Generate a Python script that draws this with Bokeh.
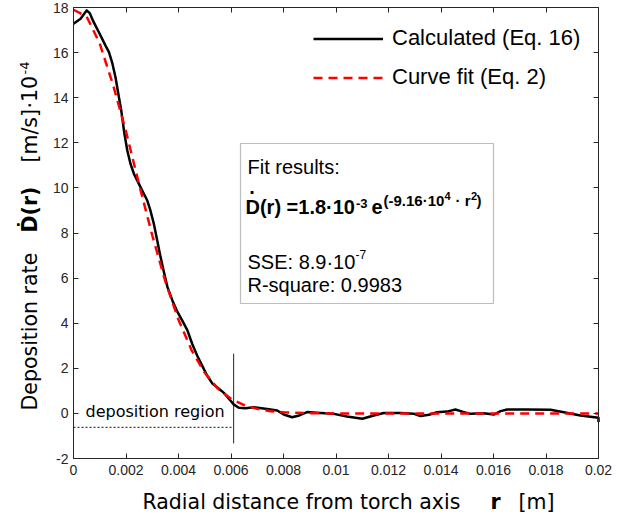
import math
from bokeh.plotting import figure
from bokeh.models import (Label, BoxAnnotation, Legend, LegendItem, LinearAxis,
                          FixedTicker, Range1d)
from bokeh.embed import file_html
from bokeh.resources import INLINE

# ---------------- data ----------------
# Calculated deposition rate (Eq. 16), units 1e-4 m/s
r_calc = [0.0, 0.00027, 0.0005, 0.00062, 0.00077, 0.00103, 0.00122, 0.00135,
          0.00147, 0.0016, 0.00173, 0.00182, 0.00194, 0.00205, 0.00217, 0.0023,
          0.00249, 0.00268, 0.00281, 0.00293, 0.00306, 0.00319, 0.00329, 0.00343,
          0.00358, 0.00377, 0.00396, 0.00415, 0.00434, 0.00452, 0.00471, 0.0049,
          0.00509, 0.00528, 0.00554, 0.00573, 0.00592, 0.00611, 0.0063, 0.00655,
          0.00687, 0.00738, 0.00776, 0.00801, 0.00833, 0.0086, 0.0089, 0.00941,
          0.00992, 0.01042, 0.011, 0.01144, 0.01182, 0.01246, 0.01297, 0.01322,
          0.01354, 0.01385, 0.01423, 0.01455, 0.01481, 0.01512, 0.01563, 0.01601,
          0.01627, 0.01652, 0.01728, 0.01817, 0.01868, 0.01931, 0.02, 0.02]
d_calc = [17.28, 17.5, 17.87, 17.75, 17.35, 16.76, 16.31, 16.02,
          15.57, 14.91, 14.02, 13.43, 12.4, 11.66, 11.07, 10.63,
          10.18, 9.74, 9.44, 9.0, 8.41, 7.67, 7.08, 6.34,
          5.6, 5.0, 4.5, 4.1, 3.68, 3.09, 2.57, 2.12,
          1.68, 1.34, 1.09, 0.91, 0.65, 0.39, 0.25, 0.23,
          0.27, 0.2, 0.13, -0.05, -0.17, -0.09, 0.06, 0.02,
          -0.02, -0.14, -0.24, -0.09, 0.02, 0.02, -0.02, -0.12,
          -0.06, 0.05, 0.08, 0.17, 0.08, -0.02, 0.01, -0.05,
          0.1, 0.17, 0.17, 0.16, 0.05, -0.09, -0.19, -0.38]

# Curve fit (Eq. 2), units 1e-4 m/s
r_fit = [0.0, 0.0005, 0.001, 0.0015, 0.002, 0.0025, 0.003, 0.0035, 0.004, 0.0045,
         0.005, 0.0055, 0.006, 0.0065, 0.007, 0.0075, 0.008, 0.009, 0.01, 0.02]
d_fit = [17.9, 17.6, 16.4, 14.6, 12.5, 10.15, 7.9, 5.85, 4.15, 2.8,
         1.8, 1.1, 0.65, 0.37, 0.2, 0.1, 0.05, 0.01, 0.0, 0.0]

# deposition region markers
region_edge_r = [0.0061, 0.0061]
region_edge_v = [-1.33, 2.65]
region_line_r = [0.0, 0.0061]
region_line_v = [-0.62, -0.62]

x_ticks = [0, 0.002, 0.004, 0.006, 0.008, 0.01, 0.012, 0.014, 0.016, 0.018, 0.02]
x_tick_labels = ["0", "0.002", "0.004", "0.006", "0.008", "0.01", "0.012",
                 "0.014", "0.016", "0.018", "0.02"]
y_ticks = [-2, 0, 2, 4, 6, 8, 10, 12, 14, 16, 18]
y_tick_labels = ["-2", "0", "2", "4", "6", "8", "10", "12", "14", "16", "18"]

legend_labels = ["Calculated (Eq. 16)", "Curve fit (Eq. 2)"]

# ---------------- layout geometry (canvas px) ----------------
W, H = 643, 516
BL, BR, BT, BB = 73, 598, 7, 458      # axes box edges
XMIN, XMAX, YMIN, YMAX = 0.0, 0.02, -2.0, 18.0
sx = (XMAX - XMIN) / (BR - BL)
sy = (YMAX - YMIN) / (BB - BT)

p = figure(width=W, height=H, output_backend="svg", toolbar_location=None,
           x_range=Range1d(XMIN - BL * sx, XMAX + (W - BR) * sx),
           y_range=Range1d(YMIN - (H - BB) * sy, YMAX + BT * sy),
           min_border_left=0, min_border_right=0,
           min_border_top=0, min_border_bottom=0,
           background_fill_color="white", border_fill_color="white")
p.outline_line_color = None
p.xgrid.visible = False
p.ygrid.visible = False

AX = "#262626"
TICKF = "Liberation Sans"

def style_axis(ax, labels=True):
    ax.axis_line_color = AX
    ax.axis_line_width = 1
    ax.major_tick_line_color = AX
    ax.major_tick_in = 5
    ax.major_tick_out = 0
    ax.minor_tick_line_color = None
    ax.major_label_text_font = TICKF
    ax.major_label_text_font_size = "14px"
    if labels:
        ax.major_label_text_color = AX
    else:
        ax.major_label_text_color = None
        ax.major_label_standoff = 0

bx = p.below[0]
ly = p.left[0]
bx.ticker = FixedTicker(ticks=x_ticks)
ly.ticker = FixedTicker(ticks=y_ticks)
bx.major_label_overrides = dict(zip(x_ticks, x_tick_labels))
ly.major_label_overrides = dict(zip(y_ticks, y_tick_labels))
style_axis(bx)
style_axis(ly)
bx.major_label_standoff = 6
ly.major_label_standoff = 5
bx.fixed_location = YMIN
ly.fixed_location = XMIN
bx.bounds = (XMIN, XMAX)
ly.bounds = (YMIN, YMAX)

top_ax = LinearAxis(ticker=FixedTicker(ticks=x_ticks), fixed_location=YMAX,
                    bounds=(XMIN, XMAX))
style_axis(top_ax, labels=False)
p.add_layout(top_ax, "above")
right_ax = LinearAxis(ticker=FixedTicker(ticks=y_ticks), fixed_location=XMAX,
                      bounds=(YMIN, YMAX))
style_axis(right_ax, labels=False)
p.add_layout(right_ax, "right")

# ---------------- helpers for placing text (canvas px -> data) ----------------
KB = 0.36   # empirical baseline correction (fraction of font size)

def rx(px):
    return XMIN + (px - BL) * sx

def vy(py):
    return YMAX - (py - BT) * sy

def fpx(size):
    return float(size.replace("px", ""))

# ---------------- region markers ----------------
p.line(region_line_r, region_line_v, line_color="#404040", line_width=1.2,
       line_dash="2 2")
p.line(region_edge_r, region_edge_v, line_color=AX, line_width=1)

# ---------------- curves ----------------
calc = p.line(r_calc, d_calc, line_color="black", line_width=2.5,
              line_join="round")
fit = p.line(r_fit, d_fit, line_color="#ff0000", line_width=2.5, line_dash="9 6")

legend = Legend(items=[LegendItem(label=legend_labels[0], renderers=[calc]),
                       LegendItem(label=legend_labels[1], renderers=[fit])],
                location=(313, 426), orientation="vertical",
                padding=0, margin=0, spacing=13,
                glyph_width=70, glyph_height=25, label_height=25,
                label_standoff=9, border_line_color=None,
                background_fill_alpha=0,
                label_text_font="Liberation Sans", label_text_font_size="22px",
                label_text_color="black")
p.add_layout(legend)

# ---------------- text helper ----------------
def text_at(px, py, txt, size, font, bold=False, align="left", rotated=False):
    s = fpx(size)
    if rotated:
        px = px - KB * s
    else:
        py = py - KB * s
    p.add_layout(Label(x=rx(px), y=vy(py), text=txt, text_font=font,
                       text_font_size=size, text_color="black",
                       text_font_style="bold" if bold else "normal",
                       angle=math.pi / 2 if rotated else 0,
                       text_baseline="alphabetic", text_align=align))

# deposition region text
text_at(85, 416.5, "deposition region", "16px", "DejaVu Sans")

# ---------------- fit results box ----------------
p.add_layout(BoxAnnotation(left=rx(240), right=rx(493), top=vy(143),
                           bottom=vy(303), fill_color="white", fill_alpha=1,
                           line_color=AX, line_width=1.2, level="annotation"))

BF = "Liberation Sans"
text_at(247, 173.3, "Fit results:", "20px", BF)
text_at(245, 213.3, "D(r) =1.8\u00b710", "20px", BF, bold=True)
text_at(251.5, 194, ".", "20px", BF, bold=True, align="center")
text_at(355.5, 207.5, "-3", "13px", BF, bold=True)
text_at(371, 213.3, "e", "20px", BF, bold=True)
text_at(383, 205.7, "(-9.16\u00b710", "15px", BF, bold=True)
text_at(444, 199.5, "4", "11px", BF, bold=True)
text_at(455, 205.7, "\u00b7 r", "15px", BF, bold=True)
text_at(470.5, 199.5, "2", "11px", BF, bold=True)
text_at(476, 205.7, ")", "15px", BF, bold=True)
text_at(247, 268.3, "SSE: 8.9\u00b710", "20px", BF)
text_at(355, 258, "-7", "12px", BF)
text_at(247, 291.7, "R-square: 0.9983", "20px", BF)

# ---------------- axis titles (as pieces) ----------------
AF = "DejaVu Sans"
text_at(37, 410, "Deposition rate", "20.5px", AF, rotated=True)
text_at(37, 232, "\u1e0a(r)", "20.5px", AF, bold=True, rotated=True)
text_at(37, 162, "[m/s]", "20.5px", AF, rotated=True)
text_at(37, 108, "\u00b710", "20.5px", AF, rotated=True)
text_at(29, 74, "-4", "13px", AF, rotated=True)

text_at(142, 509, "Radial distance from torch axis", "20.5px", AF)
text_at(490, 509, "r", "20.5px", AF, bold=True)
text_at(518, 509, "[m]", "20.5px", AF)

open("out.html", "w").write(file_html(p, INLINE))
